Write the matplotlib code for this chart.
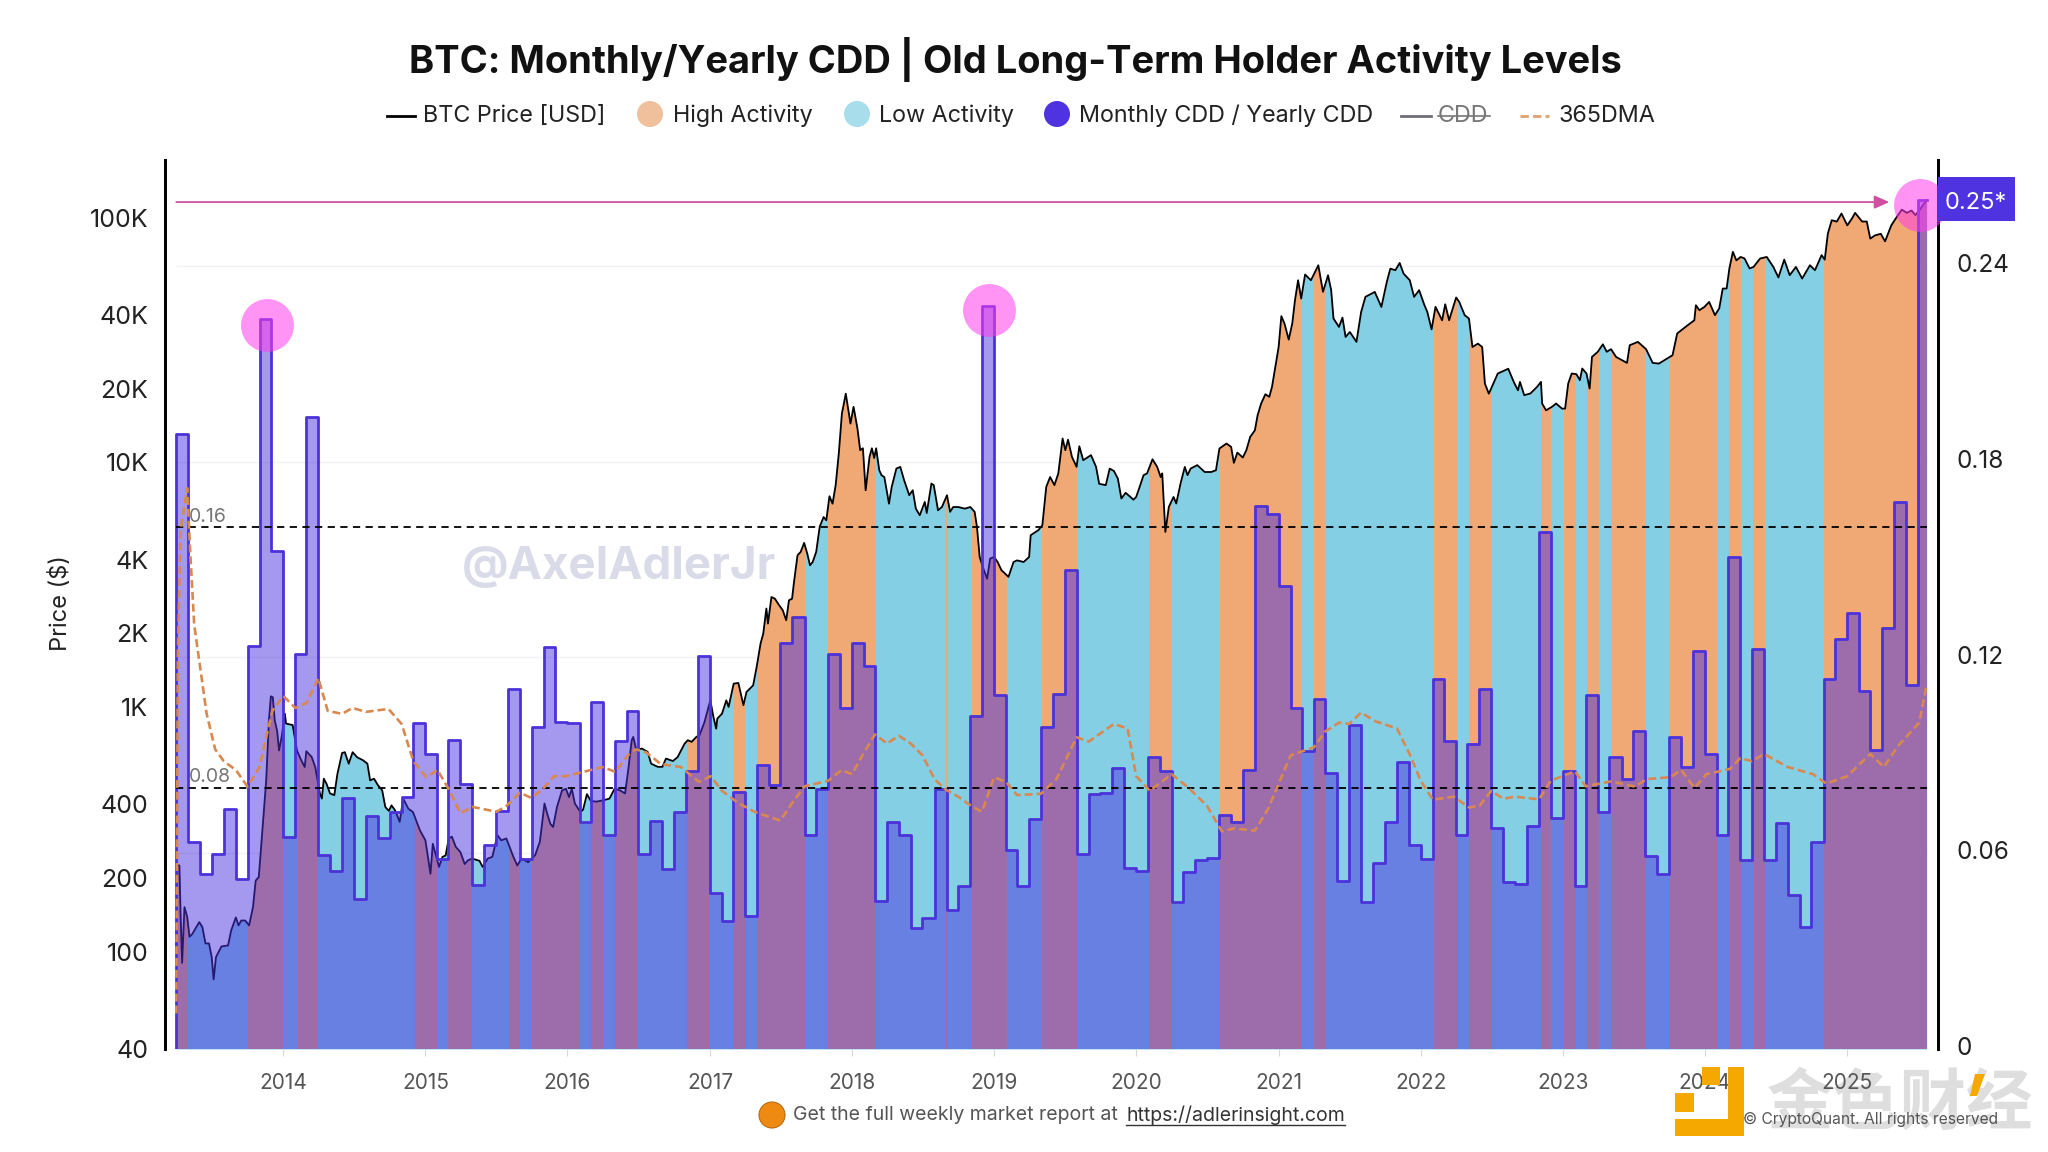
import matplotlib
matplotlib.use("Agg")
import matplotlib.pyplot as plt
import matplotlib.patches as patches
from matplotlib.lines import Line2D
from matplotlib.transforms import Affine2D, ScaledTranslation
import pandas as pd

plt.rcParams['font.family'] = ['Inter', 'DejaVu Sans']

# Monthly CDD / Yearly CDD, one value per month from 2013-04
cdd_2013 = [.1885, .0633, .0536, .0598, .0736, .0522, .1236, .2236, .1527]
cdd_2014 = [.0649, .1211, .1938, .0595, .0545, .0769, .0460, .0715, .0645, .0727, .0773, .1000]
cdd_2015 = [.0905, .0582, .0947, .0813, .0504, .0624, .0729, .1104, .0582, .0987, .1231, .1002]
cdd_2016 = [.1000, .0696, .1062, .0655, .0945, .1035, .0598, .0700, .0553, .0727, .0851, .1204]
cdd_2017 = [.0478, .0391, .0787, .0409, .0871, .0809, .1245, .1324, .0655, .0796, .1211, .1044]
cdd_2018 = [.1245, .1175, .0453, .0696, .0655, .0371, .0400, .0798, .0427, .0498, .1020, .2278]
cdd_2019 = [.1085, .0609, .0500, .0704, .0987, .1087, .1467, .0598, .0782, .0784, .0860, .0555]
cdd_2020 = [.0545, .0895, .0851, .0451, .0542, .0578, .0585, .0718, .0695, .0856, .1664, .1638]
cdd_2021 = [.1418, .1044, .0913, .1071, .0847, .0516, .0993, .0449, .0571, .0695, .0880, .0625]
cdd_2022 = [.0582, .1133, .0944, .0655, .0935, .1104, .0678, .0513, .0505, .0682, .1584, .0709]
cdd_2023 = [.0851, .0498, .1085, .0727, .0895, .0827, .0973, .0591, .0536, .0955, .0864, .1218]
cdd_2024 = [.0904, .0655, .1509, .0580, .1227, .0578, .0691, .0473, .0375, .0633, .1135, .1255]
cdd_2025 = [.1336, .1098, .0916, .1291, .1675, .1115, .2600]
last_day = "2025-07-24"

# BTC price
price_dates = [
    "2013-04-01", "2013-04-03", "2013-04-09", "2013-04-12", "2013-04-16", "2013-04-22", "2013-04-29", "2013-05-05", "2013-05-12", "2013-05-30",
    "2013-06-07", "2013-06-15", "2013-06-24", "2013-07-01", "2013-07-06", "2013-07-12", "2013-07-26", "2013-08-12", "2013-08-20", "2013-09-01",
    "2013-09-08", "2013-09-15", "2013-09-25", "2013-10-05", "2013-10-15", "2013-10-22", "2013-10-30", "2013-11-10", "2013-11-18", "2013-11-25",
    "2013-11-30", "2013-12-05", "2013-12-10", "2013-12-16", "2013-12-21", "2013-12-28", "2014-01-05", "2014-01-08", "2014-01-25", "2014-02-05",
    "2014-02-14", "2014-02-25", "2014-03-01", "2014-03-15", "2014-03-24", "2014-04-05", "2014-04-10", "2014-04-15", "2014-04-22", "2014-05-01",
    "2014-05-12", "2014-05-20", "2014-06-01", "2014-06-08", "2014-06-18", "2014-06-28", "2014-07-10", "2014-07-25", "2014-08-05", "2014-08-12",
    "2014-08-22", "2014-09-01", "2014-09-12", "2014-09-20", "2014-09-29", "2014-10-06", "2014-10-15", "2014-10-27", "2014-11-05", "2014-11-18",
    "2014-11-30", "2014-12-18", "2015-01-01", "2015-01-14", "2015-01-20", "2015-01-29", "2015-02-05", "2015-02-14", "2015-02-22", "2015-03-02",
    "2015-03-10", "2015-03-20", "2015-04-01", "2015-04-12", "2015-04-20", "2015-05-01", "2015-05-20", "2015-05-28", "2015-06-10", "2015-06-22",
    "2015-07-05", "2015-07-15", "2015-07-28", "2015-08-15", "2015-08-25", "2015-09-05", "2015-09-22", "2015-10-10", "2015-10-22", "2015-11-03",
    "2015-11-10", "2015-11-18", "2015-11-25", "2015-12-05", "2015-12-18", "2015-12-28", "2016-01-05", "2016-01-12", "2016-01-20", "2016-02-03",
    "2016-02-10", "2016-02-20", "2016-03-01", "2016-03-15", "2016-04-01", "2016-04-18", "2016-05-01", "2016-05-15", "2016-05-28", "2016-06-05",
    "2016-06-14", "2016-06-18", "2016-06-26", "2016-07-10", "2016-07-25", "2016-08-03", "2016-08-20", "2016-09-01", "2016-09-10", "2016-09-28",
    "2016-10-10", "2016-10-28", "2016-11-05", "2016-11-15", "2016-11-27", "2016-12-05", "2016-12-18", "2017-01-02", "2017-01-10", "2017-01-17",
    "2017-01-20", "2017-02-01", "2017-02-12", "2017-02-18", "2017-03-03", "2017-03-15", "2017-03-28", "2017-04-05", "2017-04-22", "2017-05-01",
    "2017-05-11", "2017-05-18", "2017-05-26", "2017-05-30", "2017-06-08", "2017-06-17", "2017-06-25", "2017-07-07", "2017-07-16", "2017-07-23",
    "2017-07-31", "2017-08-05", "2017-08-14", "2017-08-22", "2017-08-31", "2017-09-08", "2017-09-15", "2017-09-22", "2017-10-01", "2017-10-10",
    "2017-10-20", "2017-10-27", "2017-11-04", "2017-11-12", "2017-11-20", "2017-11-28", "2017-12-06", "2017-12-16", "2017-12-24", "2017-12-28",
    "2018-01-05", "2018-01-15", "2018-01-22", "2018-01-29", "2018-02-05", "2018-02-15", "2018-02-21", "2018-02-27", "2018-03-04", "2018-03-12",
    "2018-03-18", "2018-03-25", "2018-04-06", "2018-04-13", "2018-04-25", "2018-05-05", "2018-05-15", "2018-05-28", "2018-06-06", "2018-06-14",
    "2018-06-24", "2018-07-07", "2018-07-12", "2018-07-24", "2018-07-30", "2018-08-10", "2018-08-20", "2018-09-02", "2018-09-10", "2018-09-18",
    "2018-10-01", "2018-10-18", "2018-11-01", "2018-11-12", "2018-11-18", "2018-11-25", "2018-12-03", "2018-12-14", "2018-12-22", "2019-01-01",
    "2019-01-10", "2019-01-20", "2019-02-07", "2019-02-20", "2019-03-01", "2019-03-18", "2019-04-01", "2019-04-05", "2019-04-25", "2019-05-05",
    "2019-05-15", "2019-05-25", "2019-06-05", "2019-06-15", "2019-06-26", "2019-07-03", "2019-07-10", "2019-07-20", "2019-08-01", "2019-08-08",
    "2019-08-18", "2019-09-07", "2019-09-20", "2019-09-28", "2019-10-15", "2019-10-25", "2019-11-05", "2019-11-15", "2019-11-24", "2019-12-05",
    "2019-12-25", "2020-01-01", "2020-01-10", "2020-01-20", "2020-01-29", "2020-02-12", "2020-02-24", "2020-03-04", "2020-03-08", "2020-03-12",
    "2020-03-16", "2020-03-25", "2020-04-06", "2020-04-13", "2020-04-24", "2020-05-05", "2020-05-12", "2020-05-20", "2020-06-06", "2020-06-25",
    "2020-07-12", "2020-07-24", "2020-08-02", "2020-08-20", "2020-09-01", "2020-09-08", "2020-09-17", "2020-10-01", "2020-10-10", "2020-10-20",
    "2020-11-01", "2020-11-08", "2020-11-17", "2020-11-28", "2020-12-08", "2020-12-15", "2020-12-22", "2021-01-01", "2021-01-08", "2021-01-16",
    "2021-01-27", "2021-02-05", "2021-02-12", "2021-02-20", "2021-02-28", "2021-03-10", "2021-03-25", "2021-04-13", "2021-04-25", "2021-05-08",
    "2021-05-16", "2021-05-22", "2021-06-05", "2021-06-14", "2021-06-22", "2021-07-03", "2021-07-20", "2021-08-01", "2021-08-12", "2021-09-05",
    "2021-09-22", "2021-10-06", "2021-10-15", "2021-10-28", "2021-11-08", "2021-11-18", "2021-12-04", "2021-12-15", "2021-12-28", "2022-01-10",
    "2022-01-18", "2022-01-29", "2022-02-08", "2022-02-25", "2022-03-05", "2022-03-15", "2022-04-02", "2022-04-10", "2022-04-24", "2022-05-05",
    "2022-05-14", "2022-05-28", "2022-06-08", "2022-06-15", "2022-06-25", "2022-07-01", "2022-07-18", "2022-08-14", "2022-08-28", "2022-09-08",
    "2022-09-13", "2022-09-24", "2022-10-10", "2022-10-27", "2022-11-06", "2022-11-09", "2022-11-19", "2022-12-04", "2022-12-15", "2022-12-30",
    "2023-01-07", "2023-01-15", "2023-01-24", "2023-02-05", "2023-02-14", "2023-02-20", "2023-03-03", "2023-03-11", "2023-03-17", "2023-04-01",
    "2023-04-14", "2023-04-24", "2023-05-05", "2023-05-18", "2023-06-15", "2023-06-22", "2023-07-13", "2023-08-03", "2023-08-20", "2023-09-05",
    "2023-09-26", "2023-10-10", "2023-10-22", "2023-11-18", "2023-12-05", "2023-12-09", "2023-12-18", "2023-12-31", "2024-01-12", "2024-01-27",
    "2024-02-07", "2024-02-16", "2024-02-26", "2024-03-04", "2024-03-13", "2024-03-22", "2024-04-02", "2024-04-12", "2024-04-25", "2024-05-05",
    "2024-05-22", "2024-06-08", "2024-06-25", "2024-07-08", "2024-07-23", "2024-08-06", "2024-08-22", "2024-09-07", "2024-09-27", "2024-10-10",
    "2024-10-27", "2024-11-04", "2024-11-12", "2024-11-22", "2024-12-05", "2024-12-17", "2025-01-01", "2025-01-13", "2025-01-21", "2025-02-08",
    "2025-02-20", "2025-03-01", "2025-03-13", "2025-03-28", "2025-04-08", "2025-04-24", "2025-05-08", "2025-05-21", "2025-06-03", "2025-06-15",
    "2025-06-25", "2025-07-07", "2025-07-24",
]
price_usd = [
    105, 225, 225, 143, 90, 152, 139, 115, 118, 132,
    126, 108, 108, 95, 77, 95, 105, 106, 122, 138,
    128, 134, 134, 128, 152, 195, 202, 344, 501, 881,
    1105, 1095, 880, 800, 664, 760, 938, 855, 843, 664,
    615, 568, 659, 624, 568, 443, 422, 509, 485, 443,
    436, 533, 648, 653, 586, 653, 622, 605, 586, 501,
    509, 479, 456, 390, 376, 396, 378, 339, 422, 384,
    372, 313, 285, 208, 276, 244, 222, 244, 247, 290,
    295, 268, 255, 228, 236, 240, 235, 222, 240, 244,
    299, 285, 290, 244, 225, 240, 232, 248, 281, 403,
    366, 333, 323, 390, 456, 463, 428, 463, 403, 372,
    380, 440, 413, 410, 415, 422, 463, 456, 443, 551,
    731, 754, 665, 676, 655, 586, 569, 569, 615, 601,
    624, 708, 731, 720, 754, 766, 867, 1064, 910, 815,
    896, 938, 1064, 1000, 1245, 1253, 1017, 1151, 1225, 1456,
    1814, 1995, 2524, 2190, 2813, 2768, 2643, 2484, 2260, 2728,
    2768, 3243, 4167, 4297, 4680, 4235, 3793, 3910, 4300, 5450,
    5970, 5790, 7260, 6770, 8060, 10840, 15800, 19060, 15800, 14390,
    16840, 13720, 11200, 11400, 7680, 10520, 11400, 10400, 11400, 9270,
    8840, 8700, 6770, 7930, 9420, 9570, 8430, 7330, 7680, 6460,
    6070, 6880, 6200, 8180, 8060, 6360, 6560, 7330, 6270, 6560,
    6560, 6460, 6560, 6270, 5450, 4100, 3730, 3340, 4040, 4100,
    3910, 3620, 3400, 3910, 3970, 3910, 4100, 5030, 5280, 5530,
    7930, 8700, 8060, 9000, 12500, 11200, 12360, 10520, 9570, 11620,
    10190, 10690, 9570, 8160, 8060, 9420, 9200, 8570, 7110, 7500,
    7030, 7210, 7930, 8850, 9000, 10280, 9570, 8700, 9000, 6780,
    5190, 6570, 7210, 6780, 8180, 9570, 8850, 9420, 9730, 9120,
    9120, 9270, 11380, 11920, 11550, 9940, 10950, 10450, 11190, 12690,
    13500, 15560, 17360, 18960, 18500, 20320, 23740, 29570, 39530, 36880,
    31700, 36880, 45900, 55400, 46650, 58470, 55400, 63800, 49700, 58080,
    50460, 38650, 35720, 39000, 32500, 34050, 31030, 41120, 47400, 49650,
    43100, 54600, 61800, 60900, 65200, 59000, 55400, 47400, 50460, 44100,
    41100, 34900, 43150, 38030, 44200, 38030, 47100, 45200, 39900, 38650,
    29570, 30530, 29570, 20950, 19060, 20000, 23030, 24100, 21300, 19670,
    21300, 18790, 19100, 20320, 21300, 17370, 16300, 16830, 17370, 16560,
    16560, 20980, 23040, 22900, 21640, 24150, 23040, 19990, 26930, 28270,
    30330, 28270, 28970, 26930, 25460, 30070, 31030, 28970, 25460, 25300,
    26530, 27370, 33600, 36300, 38030, 43800, 41800, 43130, 45200, 39900,
    42500, 51250, 51250, 61900, 72400, 66800, 69000, 68000, 61900, 62800,
    68000, 69000, 62800, 56900, 67300, 58100, 62800, 56300, 63800, 60900,
    70200, 67300, 85900, 97500, 96200, 103800, 92900, 99100, 104500, 96300,
    96300, 82000, 84500, 85800, 79900, 92900, 100500, 107700, 104500, 106800,
    102300, 108000, 118000,
]

# 365DMA
dma_dates = [
    "2013-04-01", "2013-04-05", "2013-04-12", "2013-04-29", "2013-05-07", "2013-05-17", "2013-06-03", "2013-06-18", "2013-07-10", "2013-08-01",
    "2013-09-01", "2013-10-01", "2013-11-01", "2013-11-18", "2013-12-04", "2014-01-01", "2014-02-01", "2014-03-01", "2014-04-01", "2014-04-25",
    "2014-06-01", "2014-06-28", "2014-08-01", "2014-09-28", "2014-11-01", "2014-12-01", "2015-01-03", "2015-02-01", "2015-02-28", "2015-04-01",
    "2015-05-01", "2015-07-03", "2015-07-28", "2015-09-01", "2015-10-01", "2015-11-01", "2015-11-28", "2015-12-28", "2016-02-10", "2016-04-01",
    "2016-05-03", "2016-06-04", "2016-06-25", "2016-07-21", "2016-08-28", "2016-10-18", "2016-12-04", "2017-01-03", "2017-02-01", "2017-03-13",
    "2017-04-25", "2017-07-01", "2017-08-01", "2017-09-01", "2017-11-01", "2017-12-05", "2018-01-01", "2018-02-01", "2018-03-01", "2018-04-01",
    "2018-05-01", "2018-06-01", "2018-07-01", "2018-08-01", "2018-08-28", "2018-10-01", "2018-11-03", "2018-12-01", "2019-01-01", "2019-02-01",
    "2019-03-01", "2019-05-01", "2019-06-10", "2019-08-01", "2019-09-01", "2019-11-05", "2019-12-10", "2020-01-01", "2020-02-05", "2020-04-01",
    "2020-05-15", "2020-07-01", "2020-08-08", "2020-09-10", "2020-11-01", "2020-12-05", "2021-02-01", "2021-04-01", "2021-05-01", "2021-06-05",
    "2021-07-01", "2021-08-01", "2021-09-05", "2021-11-01", "2021-12-05", "2022-01-01", "2022-02-01", "2022-03-27", "2022-05-05", "2022-06-01",
    "2022-07-01", "2022-08-01", "2022-09-01", "2022-11-01", "2022-12-01", "2023-02-01", "2023-03-01", "2023-05-05", "2023-07-05", "2023-08-05",
    "2023-10-05", "2023-11-01", "2023-12-05", "2024-01-05", "2024-03-05", "2024-04-01", "2024-05-01", "2024-06-01", "2024-08-01", "2024-10-05",
    "2024-11-08", "2025-01-01", "2025-03-01", "2025-04-05", "2025-05-10", "2025-07-05", "2025-07-24",
]
dma_values = [
    .0109, .1209, .1590, .1718, .1518, .1300, .1155, .1027, .0918, .0882,
    .0855, .0804, .0864, .0955, .1036, .1082, .1045, .1060, .1136, .1036,
    .1027, .1045, .1033, .1042, .0996, .0882, .0833, .0855, .0800, .0722,
    .0742, .0727, .0745, .0785, .0769, .0800, .0836, .0836, .0849, .0864,
    .0849, .0900, .0918, .0909, .0873, .0864, .0818, .0836, .0791, .0755,
    .0727, .0700, .0755, .0805, .0822, .0855, .0842, .0909, .0964, .0936,
    .0960, .0936, .0900, .0827, .0796, .0773, .0745, .0727, .0833, .0818,
    .0778, .0782, .0827, .0955, .0942, .0996, .0982, .0836, .0791, .0842,
    .0800, .0745, .0667, .0676, .0669, .0736, .0900, .0924, .0973, .1000,
    .0996, .1031, .1005, .0982, .0900, .0822, .0764, .0773, .0740, .0745,
    .0791, .0767, .0773, .0765, .0822, .0851, .0805, .0820, .0804, .0827,
    .0833, .0855, .0800, .0842, .0858, .0891, .0882, .0904, .0864, .0842,
    .0813, .0836, .0904, .0864, .0927, .1000, .1118,
]

# high activity periods, the rest of the price area is low activity
high_start = ["2013-04-01", "2013-10-01", "2014-02-05", "2014-12-05", "2015-03-01", "2015-08-03", "2015-10-01", "2016-03-01",
              "2016-05-03", "2016-11-04", "2017-03-03", "2017-05-03", "2017-11-01", "2018-08-28", "2018-11-04", "2019-05-03",
              "2020-02-04", "2020-08-03", "2021-04-03", "2022-02-04", "2022-05-04", "2022-11-05", "2023-01-05", "2023-03-04",
              "2023-05-04", "2023-10-03", "2024-03-03", "2024-05-03", "2024-11-03"]
high_end = ["2013-05-01", "2014-01-01", "2014-04-01", "2015-02-01", "2015-05-01", "2015-09-01", "2016-02-01", "2016-04-01",
            "2016-07-01", "2017-01-01", "2017-04-01", "2017-09-03", "2018-03-03", "2018-09-05", "2019-02-04", "2019-08-01",
            "2020-04-03", "2021-03-03", "2021-05-03", "2022-04-04", "2022-07-02", "2022-12-03", "2023-02-03", "2023-04-03",
            "2023-08-03", "2024-02-03", "2024-04-03", "2024-06-03", "2025-07-24"]

peak_dates = ["2013-11-21", "2018-12-20", "2025-07-06"]
peak_values = [.2218, .2264, .2585]

price_ticks = [40, 100, 200, 400, 1000, 2000, 4000, 10000, 20000, 40000, 100000]
price_labels = ["40", "100", "200", "400", "1K", "2K", "4K", "10K", "20K", "40K", "100K"]
ratio_ticks = [0, .06, .12, .18, .24]
ratio_labels = ["0", "0.06", "0.12", "0.18", "0.24"]
year_ticks = list(range(2014, 2026))

W, H = 2048, 1152
PRICE_MIN, PRICE_MAX = 40, 171800
RATIO_MAX = .2724

HIGH = '#F0A875'
LOW = '#85CFE5'
CDD_LINE = '#4B32D9'
CDD_FILL = '#4B32E1'
GRAY = '#555555'

fig = plt.figure(figsize=(W / 100, H / 100), dpi=100, facecolor='white')
px = Affine2D().scale(1 / W, -1 / H).translate(0, 1) + fig.transFigure

ax = fig.add_axes([165 / W, 1 - 1049 / H, (1938 - 165) / W, (1049 - 160) / H])
ax2 = ax.twinx()

cdd = cdd_2013 + cdd_2014 + cdd_2015 + cdd_2016 + cdd_2017 + cdd_2018 + cdd_2019 + cdd_2020 + cdd_2021 + cdd_2022 + cdd_2023 + cdd_2024 + cdd_2025
months = list(pd.date_range("2013-04-01", periods=len(cdd), freq="MS"))
cdd_x = [months[0]] + months + [pd.Timestamp(last_day)]
cdd_y = [0] + cdd + [cdd[-1]]

p_x = pd.to_datetime(price_dates)
d_x = pd.to_datetime(dma_dates)

# --- price axis ---
ax.set_yscale('log')
ax.set_ylim(PRICE_MIN, PRICE_MAX)
ax.set_xlim(pd.Timestamp("2013-03-03"), pd.Timestamp("2025-08-22"))

# faint grid belongs to the right axis, so map it to the log scale
for v in ratio_ticks[1:]:
    ax.hlines(PRICE_MIN * (PRICE_MAX / PRICE_MIN) ** (v / RATIO_MAX), months[0], pd.Timestamp(last_day),
              color='#F2F2F4', lw=1, zorder=0.5)

area = ax.fill_between(p_x, PRICE_MIN, price_usd, color=LOW, lw=0, zorder=1)
clip = area.get_paths()[0]
for s, e in zip(high_start, high_end):
    band = ax.axvspan(pd.Timestamp(s), pd.Timestamp(e), color=HIGH, lw=0, zorder=1.2)
    band.set_clip_path(clip, ax.transData)
ax.plot(p_x, price_usd, color='black', lw=1.3, zorder=2)

ax.set_yticks(price_ticks)
ax.set_yticklabels(price_labels)
ax.minorticks_off()
ax.tick_params(axis='y', length=0, labelsize=18, pad=12, colors='#222222')
ax.set_xticks([pd.Timestamp(f"{y}-01-01") for y in year_ticks])
ax.set_xticklabels([str(y) for y in year_ticks])
ax.tick_params(axis='x', length=5, width=0.8, color='#D9D9D9', labelsize=15, labelcolor=GRAY, pad=12)

# --- CDD axis ---
ax2.set_ylim(0, RATIO_MAX)
ax2.fill_between(cdd_x, 0, cdd_y, step='post', color=CDD_FILL, alpha=.5, lw=0, zorder=2)
ax2.step(cdd_x, cdd_y, where='post', color=CDD_LINE, lw=2, zorder=3)
ax2.hlines([.16, .08], months[0], pd.Timestamp(last_day), color='black', lw=1.3, linestyles=(0, (4, 3)), zorder=4)
ax2.plot(d_x, dma_values, color='#D9894F', lw=1.9, ls=(0, (3, 1.5)), zorder=5)
ax2.scatter(pd.to_datetime(peak_dates), peak_values, s=1450, color='#FF3CEB', alpha=.55, lw=0, zorder=6, clip_on=False)
ax2.annotate("", xy=(pd.Timestamp("2025-04-19"), .2595), xytext=(months[0], .2595),
             arrowprops=dict(arrowstyle='-|>,head_length=0.9,head_width=0.4', color='#D04FA0', lw=1.3, shrinkA=0, shrinkB=0), zorder=6)
ax2.set_yticks(ratio_ticks)
ax2.set_yticklabels(ratio_labels)
ax2.tick_params(axis='y', length=0, labelsize=17.5, pad=13.5, colors='#222222')
for lab in ax2.get_yticklabels():
    lab.set_transform(lab.get_transform() + ScaledTranslation(0, 2 / 72, fig.dpi_scale_trans))

for a in (ax, ax2):
    a.spines['top'].set_visible(False)
    a.spines['bottom'].set_visible(False)
    a.spines['left'].set_linewidth(2)
    a.spines['right'].set_linewidth(2)

# --- text above and around the plot ---
fig.text(1015, 59, "BTC: Monthly/Yearly CDD | Old Long-Term Holder Activity Levels", transform=px,
         ha='center', va='center', fontsize=27.4, fontweight='bold', color='#111111')
fig.text(61, 603, "Price ($)", transform=px, rotation=90, ha='center', va='center', fontsize=17, color='#222222')
fig.text(619, 567, "@AxelAdlerJr", transform=px, ha='center', va='center', fontsize=33, fontweight='bold', color='#DADBE8')
fig.text(189, 517, "0.16", transform=px, va='center', fontsize=14, color='#777777')
fig.text(189, 777, "0.08", transform=px, va='center', fontsize=14, color='#777777')

# current value flag
fig.add_artist(patches.Rectangle((1938, 177), 77, 44, transform=px, facecolor='#4F33E0', edgecolor='none', zorder=5))
fig.text(1976, 203, "0.25*", transform=px, ha='center', va='center', fontsize=17, color='white', zorder=6)

# --- legend, drawn by hand because of the struck out CDD entry ---
LEG_Y = 116
LEG_SIZE = 16.8
fig.add_artist(Line2D([387, 415], [LEG_Y, LEG_Y], transform=px, color='black', lw=2))
fig.text(423, LEG_Y, "BTC Price [USD]", transform=px, va='center', fontsize=LEG_SIZE, color='#222222')
fig.add_artist(patches.Circle((650, LEG_Y - 2), 13, transform=px, facecolor='#F0C09C', edgecolor='none'))
fig.text(673, LEG_Y, "High Activity", transform=px, va='center', fontsize=LEG_SIZE, color='#222222')
fig.add_artist(patches.Circle((857, LEG_Y - 2), 13, transform=px, facecolor='#A8DDEC', edgecolor='none'))
fig.text(879, LEG_Y, "Low Activity", transform=px, va='center', fontsize=LEG_SIZE, color='#222222')
fig.add_artist(patches.Circle((1057, LEG_Y - 2), 13, transform=px, facecolor='#4F33E0', edgecolor='none'))
fig.text(1079, LEG_Y, "Monthly CDD / Yearly CDD", transform=px, va='center', fontsize=LEG_SIZE, color='#222222')
fig.add_artist(Line2D([1401, 1431], [LEG_Y, LEG_Y], transform=px, color='#6E6E78', lw=2))
fig.text(1438, LEG_Y, "CDD", transform=px, va='center', fontsize=LEG_SIZE, color='#777777')
fig.add_artist(Line2D([1438, 1490], [LEG_Y, LEG_Y], transform=px, color='#777777', lw=1.2))
fig.add_artist(Line2D([1520, 1549], [LEG_Y, LEG_Y], transform=px, color='#E0A070', lw=2, ls=(0, (3, 1.5))))
fig.text(1558, LEG_Y, "365DMA", transform=px, va='center', fontsize=LEG_SIZE, color='#222222')

# --- footer ---
fig.add_artist(patches.Circle((772, 1115), 13, transform=px, facecolor='#EE8A12', edgecolor='#B86A10', lw=0.8))
fig.text(793, 1115, "Get the full weekly market report at", transform=px, va='center', fontsize=14, color=GRAY)
fig.text(1126, 1115, "https://adlerinsight.com", transform=px, va='center', fontsize=14, color='#333333')
fig.add_artist(Line2D([1126, 1345], [1125, 1125], transform=px, color='#333333', lw=1))

# site stamp in the corner, the stamp text sits under the year labels
fig.text(1900, 1104, "金色财经", transform=px, ha='center', va='center', fontsize=48, fontweight='bold',
         family=['Noto Sans CJK SC', 'DejaVu Sans'], color='#DEDEDE', zorder=-1)
for x, y, w, h in [(1728, 1067, 16, 69), (1675, 1119, 69, 17), (1675, 1093, 19, 19), (1702, 1067, 18, 18)]:
    fig.add_artist(patches.Rectangle((x, y), w, h, transform=px, facecolor='#F5A800', edgecolor='none', zorder=3))
fig.add_artist(patches.Polygon([(1975, 1074), (1985, 1074), (1977, 1096), (1970, 1096)], transform=px, facecolor='#F5A800', edgecolor='none', zorder=3))
fig.text(1871, 1119, "© CryptoQuant. All rights reserved", transform=px, ha='center', va='center', fontsize=11.2, color='#555555', zorder=4)

fig.savefig("out.png", dpi=100)
